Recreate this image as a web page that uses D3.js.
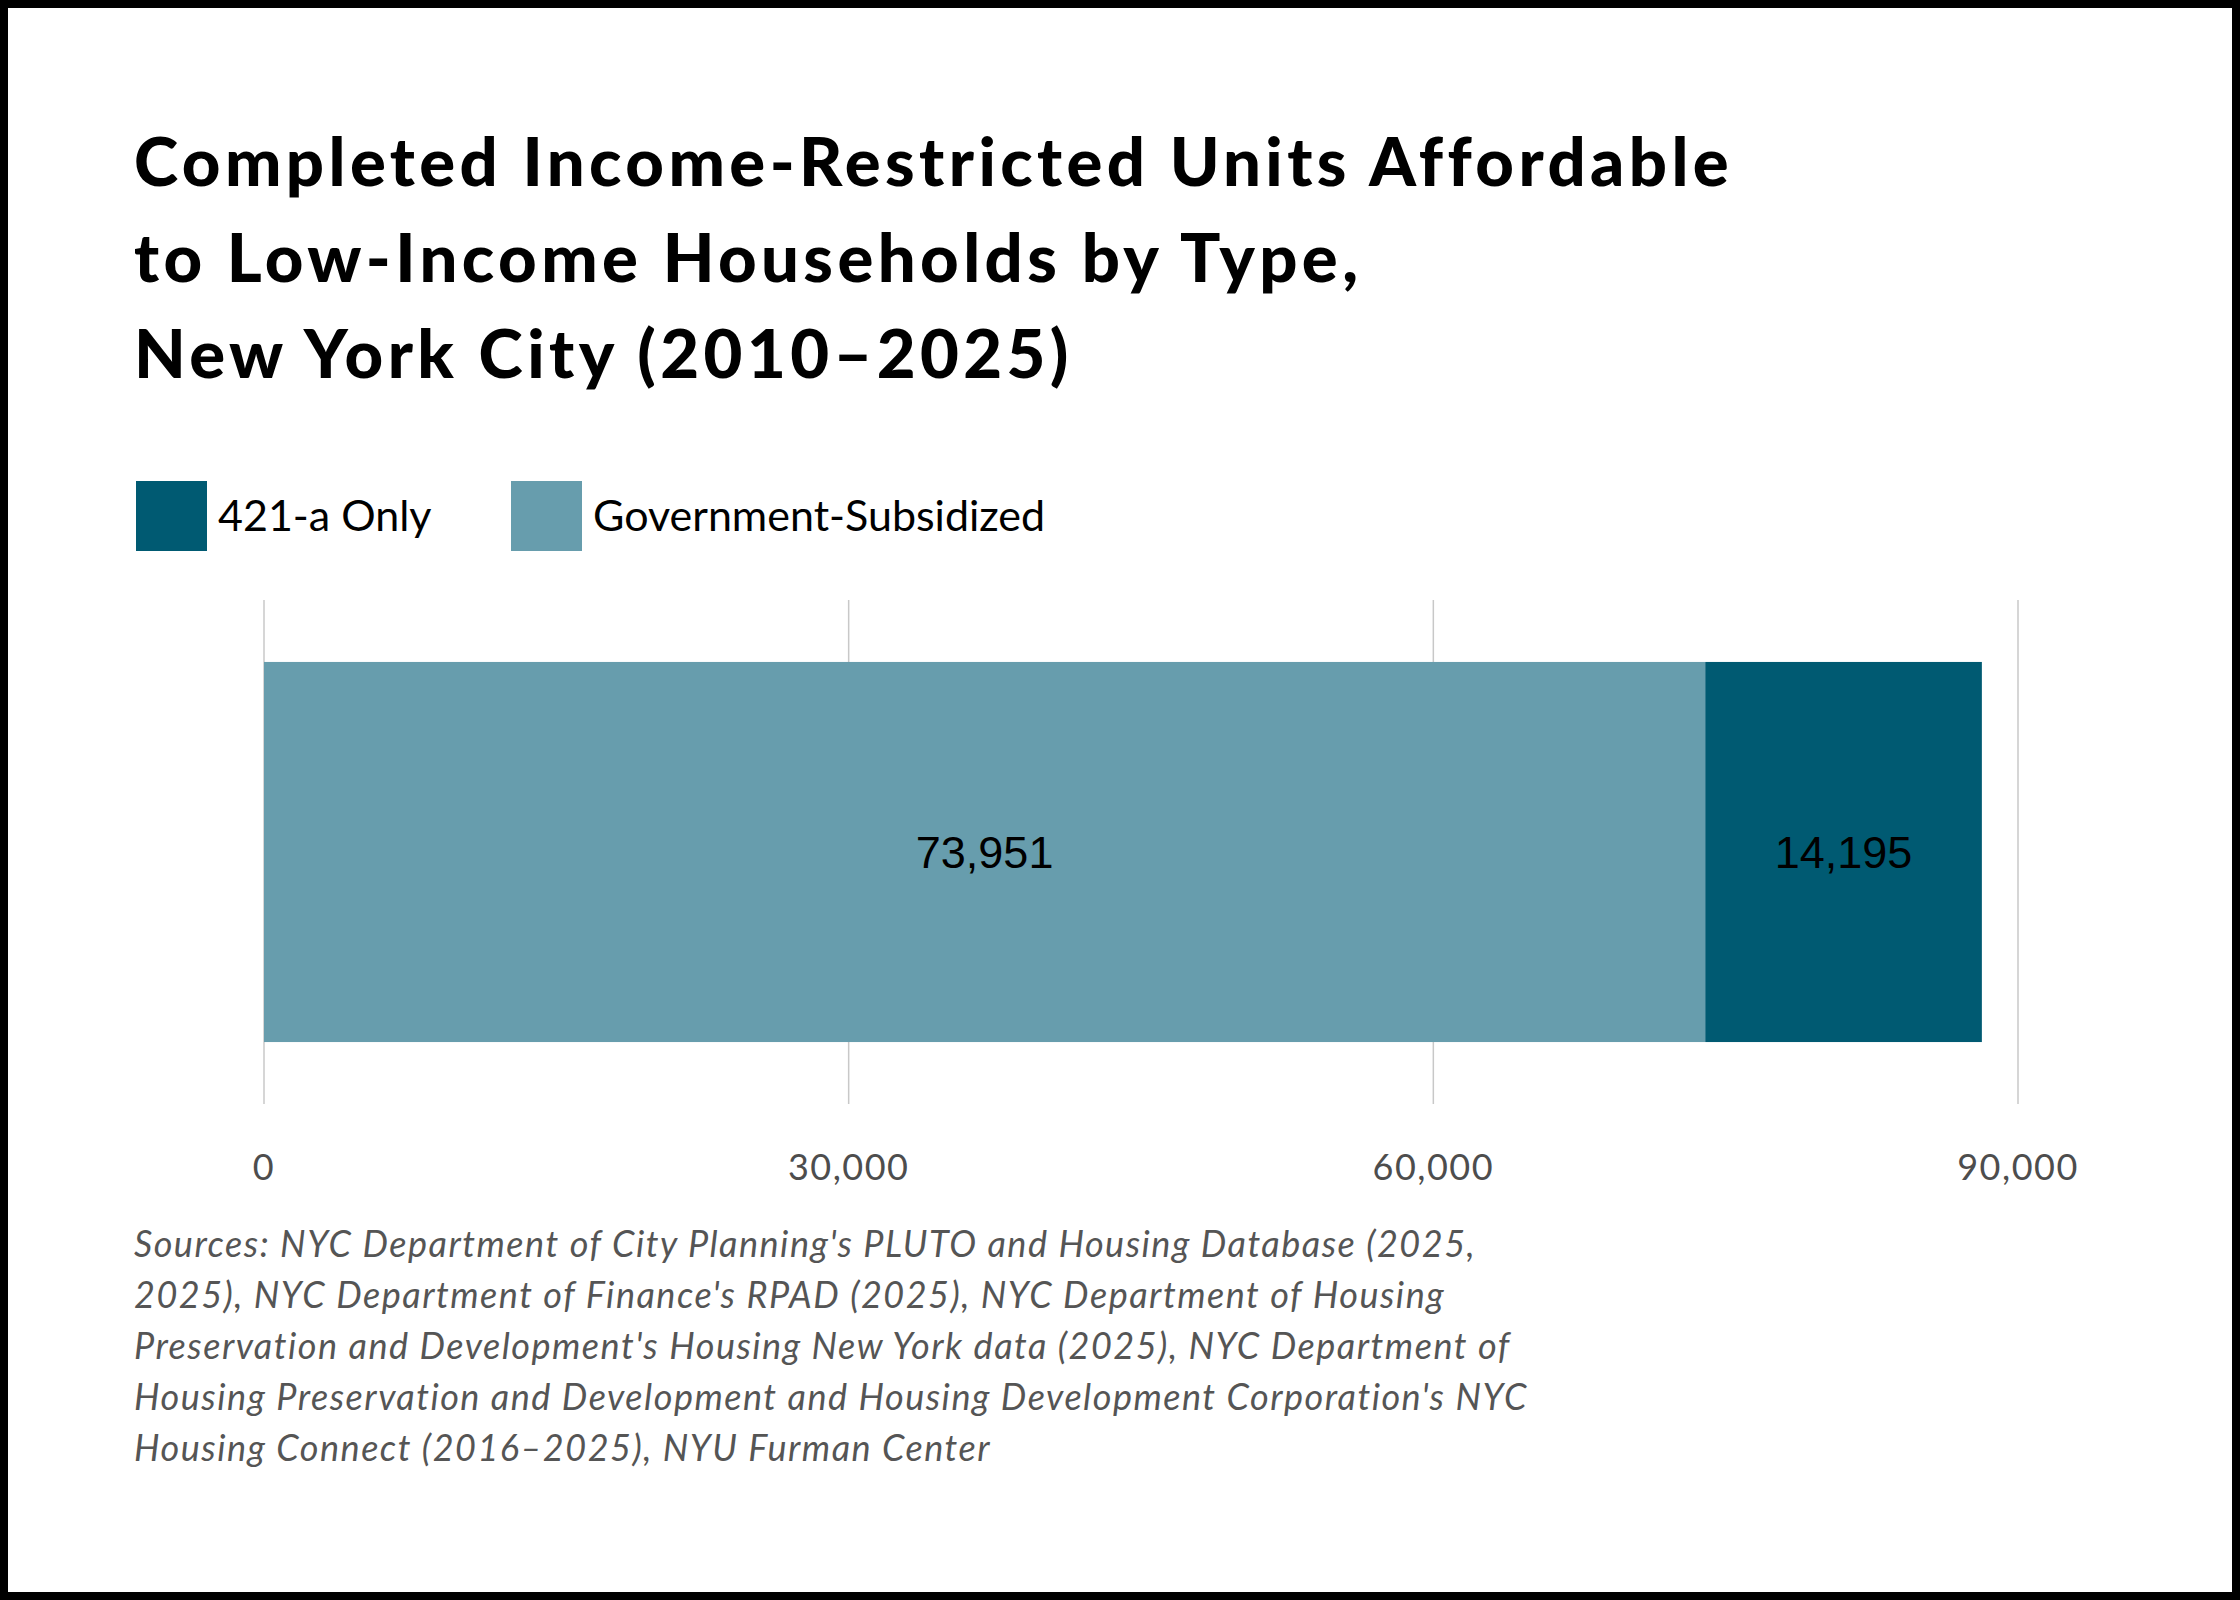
<!DOCTYPE html>
<html>
<head>
<meta charset="utf-8">
<script src="https://cdn.jsdelivr.net/npm/d3@7"></script>
<style>
  body { margin: 0; background: #fff; }
  svg { display: block; }
</style>
</head>
<body>
<div class="chart"></div>
<script>
// data
const categories = ["Government-Subsidized", "421-a Only"];
const values = [73951, 14195];
const colors = ["#679dad", "#005a72"];
const legendOrder = ["421-a Only", "Government-Subsidized"];
const ticks = [0, 30000, 60000, 90000];
const titleLines = [
    "Completed Income-Restricted Units Affordable",
    "to Low-Income Households by Type,",
    "New York City (2010\u20132025)"
];
const sourceLines = [
    "Sources: NYC Department of City Planning's PLUTO and Housing Database (2025,",
    "2025), NYC Department of Finance's RPAD (2025), NYC Department of Housing",
    "Preservation and Development's Housing New York data (2025), NYC Department of",
    "Housing Preservation and Development and Housing Development Corporation's NYC",
    "Housing Connect (2016\u20132025), NYU Furman Center"
];

const W = 2240, H = 1600;
const svg = d3.select(".chart")
              .append("svg")
              .attr("width", W)
              .attr("height", H);

svg.append("rect")
   .attr("x", 4).attr("y", 4)
   .attr("width", W - 8).attr("height", H - 8)
   .attr("fill", "#fff")
   .attr("stroke", "#000")
   .attr("stroke-width", 8);

// title
svg.append("g")
   .selectAll("text")
   .data(titleLines)
   .join("text")
   .text(d => d)
   .attr("x", 134)
   .attr("y", (d, i) => 186 + i * 96)
   .style("font-family", "Lato, sans-serif")
   .style("font-weight", 900)
   .style("font-size", "67px")
   .style("letter-spacing", "4.4px")
   .attr("fill", "#000");

// legend
const color = d3.scaleOrdinal().domain(categories).range(colors);
const legendX = [136, 511];
const legend = svg.append("g")
                  .selectAll("g")
                  .data(legendOrder)
                  .join("g")
                  .attr("transform", (d, i) => `translate(${legendX[i]}, 481)`);
legend.append("rect")
      .attr("width", 71)
      .attr("height", 70)
      .attr("fill", d => color(d));
legend.append("text")
      .text(d => d)
      .attr("x", 82)
      .attr("y", 50)
      .style("font-family", "Lato, sans-serif")
      .style("font-size", "43px")
      .attr("fill", "#000");

// chart
const x0 = 264, x1 = 2018;
const xScale = d3.scaleLinear().domain([0, 90000]).range([x0, x1]);
const yScale = d3.scaleBand().domain(["all"]).range([600, 1104]).paddingInner(0).paddingOuter(0.163);

svg.append("g")
   .selectAll("line")
   .data(ticks)
   .join("line")
   .attr("x1", d => xScale(d)).attr("x2", d => xScale(d))
   .attr("y1", 600).attr("y2", 1104)
   .attr("stroke", "#c8c8c8")
   .attr("stroke-width", 1.5);

let acc = 0;
const stack = categories.map((c, i) => {
    const s = { key: c, value: values[i], start: acc };
    acc += values[i];
    return s;
});

const barY = yScale("all"), barH = yScale.bandwidth();
const seg = svg.append("g")
               .selectAll("g")
               .data(stack)
               .join("g");
seg.append("rect")
   .attr("x", d => xScale(d.start))
   .attr("y", barY)
   .attr("width", d => xScale(d.start + d.value) - xScale(d.start))
   .attr("height", barH)
   .attr("fill", d => color(d.key));
seg.append("text")
   .text(d => d3.format(",")(d.value))
   .attr("x", d => (xScale(d.start) + xScale(d.start + d.value)) / 2)
   .attr("y", barY + barH / 2)
   .attr("dy", "0.36em")
   .attr("text-anchor", "middle")
   .style("font-family", "'Liberation Sans', Arial, sans-serif")
   .style("font-size", "45px")
   .attr("fill", "#000");

// x axis labels
svg.append("g")
   .selectAll("text")
   .data(ticks)
   .join("text")
   .text(d => d3.format(",")(d))
   .attr("x", d => xScale(d))
   .attr("y", 1180)
   .attr("text-anchor", "middle")
   .style("font-family", "Lato, sans-serif")
   .style("font-size", "36px")
   .style("letter-spacing", "1.5px")
   .attr("fill", "#4d4d4d");

// sources
svg.append("g")
   .selectAll("text")
   .data(sourceLines)
   .join("text")
   .text(d => d)
   .attr("x", 134)
   .attr("y", (d, i) => 1257 + i * 51)
   .style("font-family", "Lato, sans-serif")
   .style("font-style", "italic")
   .style("font-size", "36px")
   .style("letter-spacing", "1.5px")
   .attr("fill", "#555");
</script>
</body>
</html>
